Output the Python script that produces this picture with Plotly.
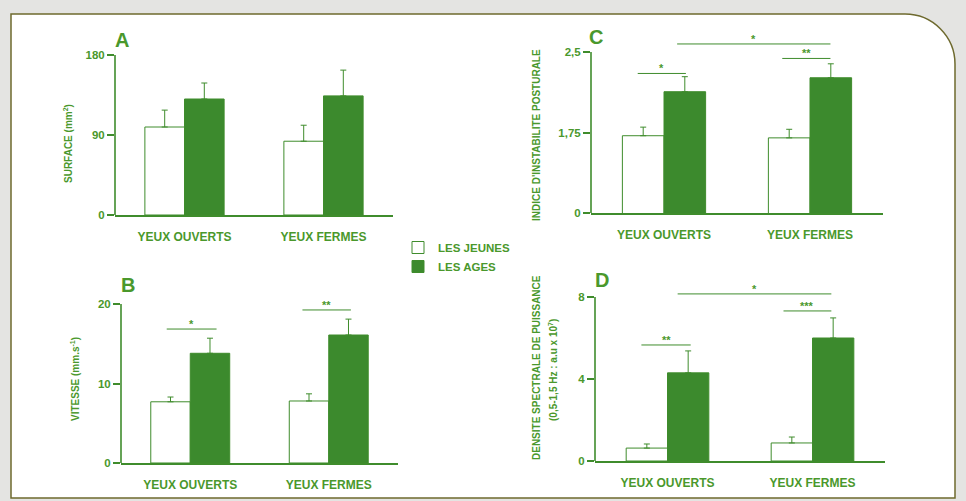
import plotly.graph_objects as go

W, H = 966, 501

categories = ["YEUX OUVERTS", "YEUX FERMES"]
series_names = ["LES JEUNES", "LES AGES"]

# Panel A : SURFACE (mm2)
A_jeunes = [99, 83]
A_jeunes_err = [19, 18]
A_ages = [130.5, 134]
A_ages_err = [18, 29]
A_tickvals = [0, 90, 180]
A_ticktext = ["0", "90", "180"]

# Panel B : VITESSE (mm.s-1)
B_jeunes = [7.7, 7.8]
B_jeunes_err = [0.6, 0.9]
B_ages = [13.8, 16.1]
B_ages_err = [1.9, 2.0]
B_tickvals = [0, 10, 20]
B_ticktext = ["0", "10", "20"]
B_sig_x0 = [-0.17, 0.81]
B_sig_x1 = [0.19, 1.16]
B_sig_y = [16.85, 19.25]
B_sig_text = ["*", "**"]

# Panel C : INDICE D'INSTABILITE POSTURALE (broken axis, bottom labelled 0)
C_jeunes = [1.72, 1.70]
C_jeunes_err = [0.08, 0.08]
C_ages = [2.13, 2.26]
C_ages_err = [0.14, 0.13]
C_tickvals = [1.0, 1.75, 2.5]
C_ticktext = ["0", "1,75", "2,5"]
C_sig_x0 = [-0.18, 0.81, 0.09]
C_sig_x1 = [0.15, 1.14, 1.14]
C_sig_y = [2.30, 2.44, 2.575]
C_sig_text = ["*", "**", "*"]

# Panel D : DENSITE SPECTRALE DE PUISSANCE
D_jeunes = [0.63, 0.88]
D_jeunes_err = [0.20, 0.29]
D_ages = [4.3, 6.0]
D_ages_err = [1.07, 0.98]
D_tickvals = [0, 4, 8]
D_ticktext = ["0", "4", "8"]
D_sig_x0 = [-0.18, 0.80, 0.07]
D_sig_x1 = [0.16, 1.13, 1.13]
D_sig_y = [5.66, 7.32, 8.15]
D_sig_text = ["**", "***", "*"]

GREEN_FILL = "#3c8a2d"
GREEN_LINE = "#3f8c2c"
GREEN_TEXT = "#4a982c"
FONT = "Liberation Sans"


def px_x(p):
    return p / W


def px_y(p):
    return 1 - p / H


panels = [
    dict(n="", x0=115, x1=393, yb=215, ppu=160 / 180, rng=[0, 180], top=180,
         j=A_jeunes, je=A_jeunes_err, a=A_ages, ae=A_ages_err,
         tv=A_tickvals, tt=A_ticktext, sig=None),
    dict(n="2", x0=121, x1=398, yb=463, ppu=159 / 20, rng=[0, 21], top=20,
         j=B_jeunes, je=B_jeunes_err, a=B_ages, ae=B_ages_err,
         tv=B_tickvals, tt=B_ticktext, sig=(B_sig_x0, B_sig_x1, B_sig_y, B_sig_text)),
    dict(n="3", x0=591, x1=883, yb=213, ppu=161 / 1.5, rng=[1.0, 2.7], top=2.5,
         j=C_jeunes, je=C_jeunes_err, a=C_ages, ae=C_ages_err,
         tv=C_tickvals, tt=C_ticktext, sig=(C_sig_x0, C_sig_x1, C_sig_y, C_sig_text)),
    dict(n="4", x0=595, x1=885, yb=461, ppu=164 / 8, rng=[0, 8.8], top=8,
         j=D_jeunes, je=D_jeunes_err, a=D_ages, ae=D_ages_err,
         tv=D_tickvals, tt=D_ticktext, sig=(D_sig_x0, D_sig_x1, D_sig_y, D_sig_text)),
]

fig = go.Figure()
layout_axes = {}
shapes = []
annotations = []

for i, p in enumerate(panels):
    xa = "x" + p["n"]
    ya = "y" + p["n"]
    ytop_px = p["yb"] - (p["rng"][1] - p["rng"][0]) * p["ppu"]
    fig.add_trace(go.Bar(
        x=categories, y=p["j"], name=series_names[0],
        showlegend=(i == 0), xaxis=xa, yaxis=ya, offsetgroup="j",
        marker=dict(color="white", line=dict(color=GREEN_LINE, width=1)),
        error_y=dict(type="data", array=p["je"], arrayminus=[0, 0], symmetric=False,
                     color=GREEN_LINE, thickness=1, width=3),
    ))
    fig.add_trace(go.Bar(
        x=categories, y=p["a"], name=series_names[1],
        showlegend=(i == 0), xaxis=xa, yaxis=ya, offsetgroup="a",
        marker=dict(color=GREEN_FILL, line=dict(color=GREEN_LINE, width=1)),
        error_y=dict(type="data", array=p["ae"], arrayminus=[0, 0], symmetric=False,
                     color=GREEN_LINE, thickness=1, width=3),
    ))
    xkey = "xaxis" + p["n"]
    ykey = "yaxis" + p["n"]
    layout_axes[xkey] = dict(
        domain=[px_x(p["x0"]), px_x(p["x1"])], anchor=ya, range=[-0.5, 1.5],
        showline=True, linecolor=GREEN_LINE, linewidth=1.6, ticks="", showgrid=False,
        zeroline=False, ticklabelstandoff=10, automargin=False,
        tickfont=dict(family=FONT, size=12, color=GREEN_TEXT, weight="bold"),
    )
    layout_axes[ykey] = dict(
        domain=[px_y(p["yb"]), px_y(ytop_px)], anchor=xa, range=p["rng"],
        showline=False, ticks="outside", ticklen=7, tickwidth=1.6, tickcolor=GREEN_LINE,
        tickvals=p["tv"], ticktext=p["tt"], showgrid=False, zeroline=False,
        ticklabelstandoff=0, automargin=False,
        tickfont=dict(family=FONT, size=11.5, color=GREEN_TEXT, weight="bold"),
    )
    shapes.append(dict(type="line", xref=xa + " domain", yref=ya, x0=0, x1=0,
                       y0=p["rng"][0], y1=p["top"],
                       line=dict(color=GREEN_LINE, width=1.6)))
    if p["sig"]:
        sx0, sx1, sy, st = p["sig"]
        for k in range(len(sx0)):
            shapes.append(dict(type="line", xref=xa, yref=ya, x0=sx0[k], x1=sx1[k],
                               y0=sy[k], y1=sy[k], line=dict(color=GREEN_LINE, width=1)))
            annotations.append(dict(xref=xa, yref=ya, x=(sx0[k] + sx1[k]) / 2, y=sy[k],
                                    text=st[k], showarrow=False, yanchor="bottom", yshift=-3,
                                    font=dict(family=FONT, size=11, color=GREEN_TEXT,
                                              weight="bold")))

for letter, x, y in [("A", 122, 40), ("B", 128, 285), ("C", 596, 37), ("D", 602, 280)]:
    annotations.append(dict(xref="paper", yref="paper", x=px_x(x), y=px_y(y), text=letter,
                            showarrow=False, xanchor="center", yanchor="middle",
                            font=dict(family=FONT, size=20, color=GREEN_TEXT, weight="bold")))

ytitles = [
    ("SURFACE (mm<sup>2</sup>)", 68, 144),
    ("VITESSE (mm.s<sup>-1</sup>)", 75, 379),
    ("INDICE D'INSTABILITE POSTURALE", 536, 135),
    ("DENSITE SPECTRALE DE PUISSANCE", 536, 368),
    ("(0,5-1,5 Hz : a.u x 10<sup>7</sup>)", 553, 370),
]
for t, x, y in ytitles:
    annotations.append(dict(xref="paper", yref="paper", x=px_x(x), y=px_y(y), text=t,
                            showarrow=False, textangle=-90, xanchor="center", yanchor="middle",
                            font=dict(family=FONT, size=10, color=GREEN_TEXT, weight="bold")))

fx0, fx1, fy0, fy1 = px_x(11), px_x(955), px_y(498), px_y(14)
rx, ry = 50 / W, 50 / H
path = (f"M{fx0},{fy0} L{fx0},{fy1} L{fx1 - rx},{fy1} "
        f"C{fx1 - rx * 0.45},{fy1} {fx1},{fy1 - ry * 0.45} {fx1},{fy1 - ry} "
        f"L{fx1},{fy0} Z")
shapes.insert(0, dict(type="path", xref="paper", yref="paper", path=path, layer="below",
                      fillcolor="white", line=dict(color="#6e6a2e", width=1.5)))

fig.update_layout(
    width=W, height=H, margin=dict(l=0, r=0, t=0, b=0, autoexpand=False),
    paper_bgcolor="#e4e4e2", plot_bgcolor="rgba(0,0,0,0)",
    barmode="group", bargap=0.43, bargroupgap=0,
    font=dict(family=FONT, color=GREEN_TEXT),
    showlegend=True,
    legend=dict(x=px_x(398), y=px_y(233), xanchor="left", yanchor="top",
                bgcolor="rgba(0,0,0,0)", tracegroupgap=0,
                font=dict(family=FONT, size=11.5, color=GREEN_TEXT, weight="bold")),
    shapes=shapes, annotations=annotations,
    **layout_axes,
)

fig.write_html("out.html", config={"displayModeBar": False},
               post_script="document.body.style.margin='0';")
